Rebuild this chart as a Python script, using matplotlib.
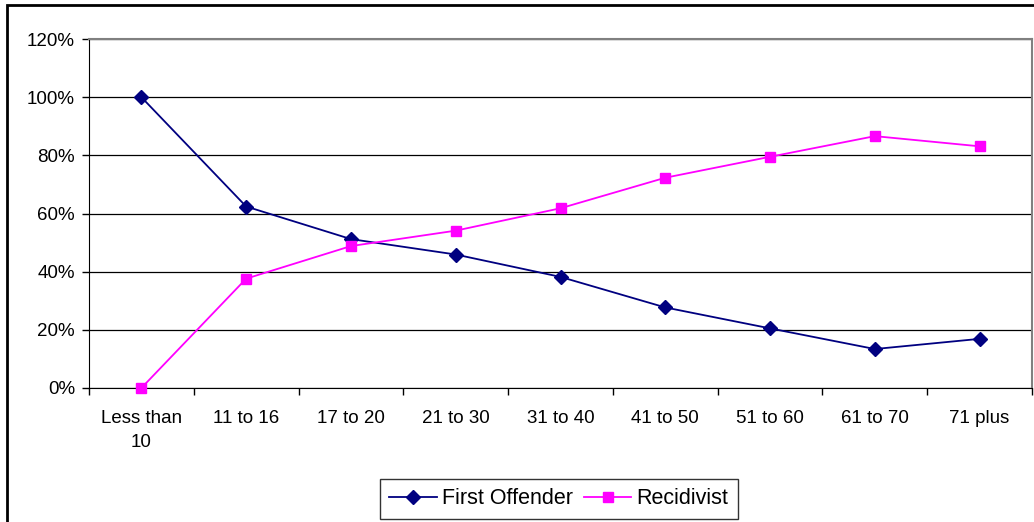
import matplotlib.pyplot as plt
from matplotlib.patches import Rectangle
from matplotlib.ticker import FuncFormatter, FixedLocator

plt.rcParams['font.family'] = ['Liberation Sans', 'DejaVu Sans']

categories = ['Less than\n10', '11 to 16', '17 to 20', '21 to 30', '31 to 40',
              '41 to 50', '51 to 60', '61 to 70', '71 plus']
first_offender = [100, 62.4, 51.2, 45.9, 38.2, 27.7, 20.5, 13.4, 16.9]
recidivist = [0, 37.6, 48.8, 54.1, 61.8, 72.3, 79.5, 86.6, 83.1]

fig = plt.figure(figsize=(10.34, 5.22), dpi=100)
ax = fig.add_axes([89 / 1034, 134 / 522, 943 / 1034, 349 / 522])

x = list(range(len(categories)))
ax.plot(x, first_offender, color='#000080', marker='D', markersize=7.5,
        linewidth=1.3, label='First Offender', clip_on=False, zorder=3)
ax.plot(x, recidivist, color='#FF00FF', marker='s', markersize=7.5,
        linewidth=1.3, label='Recidivist', clip_on=False, zorder=3)

ax.set_xlim(-0.5, len(categories) - 0.5)
ax.set_ylim(0, 120)
ax.set_yticks(range(0, 121, 20))
ax.yaxis.set_major_formatter(FuncFormatter(lambda v, p: f'{int(v)}%'))
ax.yaxis.grid(True, color='black', linewidth=0.9)
ax.set_axisbelow(True)

ax.set_xticks(x)
ax.set_xticklabels(categories, linespacing=1.55)
ax.tick_params(axis='x', which='major', length=0, pad=16)
ax.xaxis.set_minor_locator(FixedLocator([i - 0.5 for i in range(len(categories) + 1)]))
ax.tick_params(axis='x', which='minor', length=5, width=1, direction='out')
ax.tick_params(axis='y', length=5, width=1, direction='out', pad=5)
ax.tick_params(labelsize=13.5)

ax.spines['top'].set_color('#808080')
ax.spines['right'].set_color('#808080')
ax.spines['top'].set_linewidth(1.5)
ax.spines['right'].set_linewidth(1.5)

leg = fig.legend(loc='center', bbox_to_anchor=(559 / 1034, 23 / 522), ncol=2,
                 fontsize=15.5, frameon=True, fancybox=False, edgecolor='black',
                 handlelength=2.2, columnspacing=0.5, handletextpad=0.25,
                 borderpad=0.45, borderaxespad=0)
leg.get_frame().set_linewidth(1)

fig.patches.append(Rectangle((7 / 1034, -0.05), 1.1, (522 - 5) / 522 + 0.05,
                             transform=fig.transFigure, fill=False,
                             edgecolor='black', linewidth=2))

fig.savefig('out.png', dpi=100)
